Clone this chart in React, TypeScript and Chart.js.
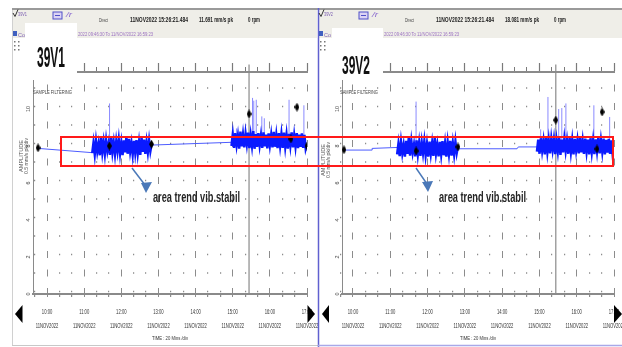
import React, { useEffect, useRef } from "react";
import { Chart, registerables } from "chart.js";
Chart.register(...registerables);

// ---------- data (time = minutes after midnight, 11 NOV 2022; amplitude mm/s pk) ----------
const X_MAX = 1020;
const HOUR_TICKS = [600, 660, 720, 780, 840, 900, 960, 1020];
const HOUR_LABELS = ["10:00", "11:00", "12:00", "13:00", "14:00", "15:00", "16:00", "17:00"];
const DATE_LABEL = "11NOV2022";
const MINOR_TICKS = [580, 620, 640, 680, 700, 740, 760, 800, 820, 860, 880, 920, 940, 980, 1000];
const TOP_TICKS = [580, 600, 620, 640, 660, 680, 700, 720, 740, 760, 780, 800, 820, 840, 860, 880, 900, 920, 940, 960, 980, 1000, 1020];
const Y_TICKS = [0, 2, 4, 6, 8, 10];
const CURSOR_TIME = 926.35;

// 39V1
const V1_XMIN = 577.3;
const V1_B1_START = 673;
const V1_B1_END = 769;
const V1_B1 = [7.62, 8.18, 7.55, 8.28, 7.7, 8.12, 7.5, 8.45, 7.66, 8.22, 7.58, 8.3, 7.74, 8.15, 7.52, 8.5, 7.68, 8.2, 7.56, 8.26, 7.72, 8.34, 7.6, 8.18, 7.5, 8.3, 7.66, 8.48, 7.58, 8.38, 7.7, 8.16, 7.54, 8.28, 7.64, 8.32, 7.6, 8.2, 7.52, 8.46, 7.68, 8.34, 7.58, 8.22, 7.66, 8.3, 7.72, 8.1];
const V1_B2_START = 898;
const V1_B2_END = 1020;
const V1_B2 = [8.0, 8.62, 7.9, 8.7, 8.05, 8.55, 7.86, 8.78, 7.98, 8.6, 7.92, 8.66, 8.1, 8.72, 7.88, 8.58, 8.02, 8.8, 7.85, 8.64, 7.95, 8.7, 8.04, 8.56, 7.9, 8.74, 7.98, 8.62, 7.87, 8.68, 8.06, 8.6, 7.92, 8.76, 7.96, 8.58, 7.88, 8.7, 8.02, 8.64, 7.9, 8.72, 7.97, 8.6, 7.86, 8.66, 8.04, 8.74, 7.92, 8.58, 7.99, 8.7, 7.88, 8.62, 7.95, 8.68, 7.9, 8.6, 7.85, 8.1];
const V1_LINK_T = [585.4, 673, 720, 769, 898];
const V1_LINK_V = [7.87, 7.64, null, 8.05, 8.2];
const V1_SPIKE_T = [701, 906, 932, 934, 938, 947, 951, 991, 1015];
const V1_SPIKE_V = [10.3, 8.95, 10.6, 10.45, 10.5, 9.6, 9.5, 10.5, 10.2];
const V1_SPIKE_BASE = 8.2;
const V1_MARK_T = [585.4, 700.6, 768.7, 926.35, 1003.8, 994, 1020];
const V1_MARK_V = [7.9, 8.0, 8.1, 9.73, 10.1, 8.38, 8.0];

// 39V2
const V2_XMIN = 582.3;
const V2_B1_START = 671;
const V2_B1_END = 769;
const V2_B1 = [7.55, 8.12, 7.45, 8.22, 7.6, 8.05, 7.42, 8.28, 7.58, 8.45, 7.48, 8.25, 7.65, 8.08, 7.44, 8.3, 7.56, 8.18, 7.46, 8.2, 7.62, 8.26, 7.5, 8.1, 7.42, 8.24, 7.58, 8.16, 7.47, 8.44, 7.6, 8.08, 7.44, 8.22, 7.55, 8.27, 7.5, 8.14, 7.43, 8.2, 7.57, 8.28, 7.48, 8.16, 7.55, 8.24, 7.62, 8.0];
const V2_B2_START = 896;
const V2_B2_END = 1020;
const V2_B2 = [7.7, 8.35, 7.58, 8.42, 7.75, 8.28, 7.55, 8.45, 7.68, 8.32, 7.6, 8.4, 7.8, 8.36, 7.56, 8.3, 7.72, 8.46, 7.52, 8.34, 7.66, 8.4, 7.74, 8.28, 7.58, 8.44, 7.68, 8.32, 7.55, 8.38, 7.76, 8.3, 7.6, 8.45, 7.65, 8.28, 7.57, 8.4, 7.7, 8.34, 7.54, 8.42, 7.67, 8.3, 7.56, 8.36, 7.73, 8.44, 7.6, 8.3, 7.69, 8.4, 7.55, 8.33, 7.64, 8.38, 7.58, 8.3, 7.52, 7.8];
const V2_LINK_T = [585.5, 630.7, 630.8, 671, 720, 769, 864, 866, 896];
const V2_LINK_V = [7.78, 7.78, 7.87, 7.92, null, 7.85, 7.85, 7.95, 7.95];
const V2_SPIKE_T = [701.5, 902, 913.7, 931, 936, 942.6, 987.6, 1013];
const V2_SPIKE_V = [10.4, 8.9, 10.65, 10.0, 10.05, 10.3, 10.2, 9.57];
const V2_SPIKE_BASE = 8.0;
const V2_MARK_T = [585.5, 701.5, 768.9, 926.35, 1000.8, 992.6, 1020];
const V2_MARK_V = [7.8, 7.73, 7.95, 9.4, 9.84, 7.84, 7.62];

// ---------- styling ----------
const FONT = "'Liberation Sans','DejaVu Sans',Arial,sans-serif";
const BAND_COLOR = "#0a1aff";
const LINK_COLOR = "#4d5cff";
const SPIKE_COLOR = "#8a8aff";
const GRID_COLOR = "#8c8c8c";

type Spec = {
  xMin: number;
  b1Start: number; b1End: number; b1: number[];
  b2Start: number; b2End: number; b2: number[];
  linkT: number[]; linkV: (number | null)[];
  spikeT: number[]; spikeV: number[]; spikeBase: number;
  markT: number[]; markV: number[];
  yWidth: number; padRight: number;
};

function makeDiamond() {
  const c = document.createElement("canvas");
  c.width = 5; c.height = 9;
  const g = c.getContext("2d")!;
  g.fillStyle = "#000";
  g.beginPath();
  g.moveTo(2.5, 0); g.lineTo(5, 4.5); g.lineTo(2.5, 9); g.lineTo(0, 4.5);
  g.closePath(); g.fill();
  return c;
}

// draws the two-line, condensed time labels at the x scale's own tick positions
const hourLabelPlugin = {
  id: "hourLabels",
  afterDraw(chart: any) {
    const sc = chart.scales.x;
    const ctx = chart.ctx as CanvasRenderingContext2D;
    ctx.save();
    ctx.fillStyle = "#333";
    ctx.font = `6.5px ${FONT}`;
    ctx.textAlign = "center";
    ctx.textBaseline = "middle";
    sc.ticks.forEach((t: any) => {
      const i = HOUR_TICKS.indexOf(t.value);
      if (i < 0) return;
      const px = sc.getPixelForValue(t.value);
      ctx.save();
      ctx.translate(px, sc.top + 18);
      ctx.scale(0.64, 1);
      ctx.fillText(HOUR_LABELS[i], 0, 0);
      ctx.fillText(DATE_LABEL, 0, 14);
      ctx.restore();
    });
    ctx.restore();
  },
};

function buildChart(canvas: HTMLCanvasElement, s: Spec) {
  const pts = (ts: number[], vs: (number | null)[]) => ts.map((t, i) => ({ x: t, y: vs[i] }));
  const band = (a: number, b: number, vs: number[]) =>
    vs.map((v, i) => ({ x: a + (i * (b - a)) / (vs.length - 1), y: v }));
  const spikes: { x: number; y: number | null }[] = [];
  s.spikeT.forEach((t, i) => {
    spikes.push({ x: t, y: s.spikeBase }, { x: t, y: s.spikeV[i] }, { x: t, y: null });
  });
  const fixTicks = (vals: number[]) => (scale: any) => {
    scale.ticks = vals.map((v) => ({ value: v }));
  };
  const zeroH = (scale: any) => {
    scale.height = 0; scale.paddingLeft = 0; scale.paddingRight = 0;
  };
  const diamond = makeDiamond();

  return new Chart(canvas, {
    type: "line",
    plugins: [hourLabelPlugin as any],
    data: {
      datasets: [
        { label: "markers", data: pts(s.markT, s.markV), showLine: false, pointStyle: diamond as any, pointRadius: 4, order: 0 },
        { label: "band1", data: band(s.b1Start, s.b1End, s.b1), borderColor: BAND_COLOR, borderWidth: 2.5, pointRadius: 0, order: 1 },
        { label: "band2", data: band(s.b2Start, s.b2End, s.b2), borderColor: BAND_COLOR, borderWidth: 2.5, pointRadius: 0, order: 1 },
        { label: "spikes", data: spikes as any, borderColor: SPIKE_COLOR, borderWidth: 1, pointRadius: 0, spanGaps: false, order: 2 },
        { label: "links", data: pts(s.linkT, s.linkV) as any, borderColor: LINK_COLOR, borderWidth: 1, pointRadius: 0, spanGaps: false, order: 3 },
        { label: "cursor", data: [{ x: CURSOR_TIME, y: 0 }, { x: CURSOR_TIME, y: 12.4 }], borderColor: "#8a8a8a", borderWidth: 1.2, pointRadius: 0, clip: false as any, order: 4 },
      ],
    },
    options: {
      responsive: false,
      maintainAspectRatio: false,
      animation: false,
      events: [],
      layout: { padding: { left: 0, right: s.padRight, top: 16, bottom: 0 } },
      plugins: { legend: { display: false }, tooltip: { enabled: false } },
      scales: {
        x: {
          type: "linear", axis: "x", position: "bottom", min: s.xMin, max: X_MAX, weight: 1,
          afterBuildTicks: fixTicks(HOUR_TICKS),
          afterFit: (sc: any) => { sc.height = 52; sc.paddingLeft = 0; sc.paddingRight = 0; },
          grid: { display: true, drawOnChartArea: true, drawTicks: true, tickLength: 3, color: GRID_COLOR, lineWidth: 1, tickColor: GRID_COLOR, tickWidth: 1 },
          border: { display: true, color: "#8a8a8a", width: 2, dash: [7, 11.5], dashOffset: 6 },
          ticks: { display: false },
        } as any,
        xMinor: {
          type: "linear", axis: "x", position: "bottom", min: s.xMin, max: X_MAX, weight: 0,
          afterBuildTicks: fixTicks(MINOR_TICKS), afterFit: zeroH,
          grid: { display: true, drawOnChartArea: true, drawTicks: true, tickLength: 3, color: GRID_COLOR, lineWidth: 1.2, tickColor: GRID_COLOR },
          border: { display: false, dash: [1.5, 17], dashOffset: 3.25 },
          ticks: { display: false },
        } as any,
        xTop: {
          type: "linear", axis: "x", position: "top", min: s.xMin, max: X_MAX, weight: 0,
          afterBuildTicks: fixTicks(HOUR_TICKS), afterFit: zeroH,
          grid: { display: true, drawOnChartArea: false, drawTicks: true, tickLength: 9, tickColor: "#7a7a7a", tickWidth: 1.2 },
          border: { display: true, color: "#8a8a8a", width: 2 },
          ticks: { display: false },
        } as any,
        xTopMinor: {
          type: "linear", axis: "x", position: "top", min: s.xMin, max: X_MAX, weight: 1,
          afterBuildTicks: fixTicks(TOP_TICKS), afterFit: zeroH,
          grid: { display: true, drawOnChartArea: false, drawTicks: true, tickLength: 5, tickColor: "#7a7a7a", tickWidth: 1 },
          border: { display: false },
          ticks: { display: false },
        } as any,
        y: {
          type: "linear", axis: "y", position: "left", min: 0, max: 12,
          afterBuildTicks: fixTicks(Y_TICKS),
          afterFit: (sc: any) => { sc.width = s.yWidth; sc.paddingTop = 0; sc.paddingBottom = 0; },
          grid: { display: true, drawOnChartArea: false, drawTicks: false },
          border: { display: true, color: "#8a8a8a", width: 1 },
          ticks: { minRotation: 90, maxRotation: 90, crossAlign: "center", padding: 1.5, color: "#444", font: { family: FONT, size: 5.5 } },
        } as any,
      },
    },
  });
}

const V1_SPEC: Spec = {
  xMin: V1_XMIN, b1Start: V1_B1_START, b1End: V1_B1_END, b1: V1_B1,
  b2Start: V1_B2_START, b2End: V1_B2_END, b2: V1_B2,
  linkT: V1_LINK_T, linkV: V1_LINK_V, spikeT: V1_SPIKE_T, spikeV: V1_SPIKE_V, spikeBase: V1_SPIKE_BASE,
  markT: V1_MARK_T, markV: V1_MARK_V, yWidth: 21, padRight: 11,
};
const V2_SPEC: Spec = {
  xMin: V2_XMIN, b1Start: V2_B1_START, b1End: V2_B1_END, b1: V2_B1,
  b2Start: V2_B2_START, b2End: V2_B2_END, b2: V2_B2,
  linkT: V2_LINK_T, linkV: V2_LINK_V, spikeT: V2_SPIKE_T, spikeV: V2_SPIKE_V, spikeBase: V2_SPIKE_BASE,
  markT: V2_MARK_T, markV: V2_MARK_V, yWidth: 22, padRight: 8,
};

function T(props: any) {
  const { x, y, size, len, fill = "#333", weight = "normal", children, anchor, italic, transform } = props;
  return (
    <text x={x} y={y} fontSize={size} fontFamily={FONT} fontWeight={weight} fill={fill}
      textLength={len} lengthAdjust="spacingAndGlyphs" textAnchor={anchor}
      fontStyle={italic ? "italic" : "normal"} transform={transform}>
      {children}
    </text>
  );
}

function Header({ ox, name, value }: { ox: number; name: string; value: string }) {
  return (
    <g>
      <polyline points={`${13 + ox},13 ${15 + ox},16.5 ${18 + ox},9.5`} fill="none" stroke="#333" strokeWidth={1} />
      <T x={18 + ox} y={16} size={6} len={9} fill="#7a5cb0">{name}</T>
      <rect x={53 + ox} y={12} width={9} height={7} fill="#dcd4f4" stroke="#5050c8" strokeWidth={1} />
      <line x1={55 + ox} x2={60 + ox} y1={15.5} y2={15.5} stroke="#5050c8" strokeWidth={1} />
      <T x={66 + ox} y={17} size={7} len={6} fill="#8a6ad0" italic>/r</T>
      <T x={99 + ox} y={22} size={6} len={9} fill="#444">Direct</T>
      <T x={130 + ox} y={22} size={6.5} len={58} fill="#222" weight="bold">11NOV2022 15:26:21.484</T>
      <T x={199 + ox} y={22} size={6.5} len={34} fill="#222" weight="bold">{value}</T>
      <T x={248 + ox} y={22} size={6.5} len={12} fill="#222" weight="bold">0 rpm</T>
      <rect x={13 + ox} y={31} width={4} height={5} fill="#4060c0" />
      <T x={18 + ox} y={37} size={6} len={7} fill="#7a5cb0">Co</T>
      <T x={78 + ox} y={36} size={5.5} len={75} fill="#9a70c0">2022 09:46:30 To 11/NOV/2022 16:59:23</T>
      {[41, 45, 49].map((yy) => (
        <g key={yy}>
          <rect x={14 + ox} y={yy} width={1.5} height={1.5} fill="#777" />
          <rect x={18 + ox} y={yy} width={1.5} height={1.5} fill="#777" />
        </g>
      ))}
    </g>
  );
}

export default function App() {
  const leftRef = useRef<HTMLCanvasElement>(null);
  const rightRef = useRef<HTMLCanvasElement>(null);

  useEffect(() => {
    document.body.style.margin = "0";
    const c1 = buildChart(leftRef.current!, V1_SPEC);
    const c2 = buildChart(rightRef.current!, V2_SPEC);
    return () => { c1.destroy(); c2.destroy(); };
  }, []);

  return (
    <div style={{ position: "absolute", left: 0, top: 0, width: 622, height: 347, background: "#fff", overflow: "hidden" }}>
      <canvas ref={leftRef} width={306} height={290} style={{ position: "absolute", left: 12, top: 56, width: 306, height: 290 }} />
      <canvas ref={rightRef} width={302} height={290} style={{ position: "absolute", left: 320, top: 56, width: 302, height: 290 }} />
      <svg width={622} height={347} style={{ position: "absolute", left: 0, top: 0, pointerEvents: "none" }}>
        {/* frames & header bands */}
        <rect x={12} y={10} width={305} height={28} fill="#efeee8" />
        <rect x={319} y={10} width={303} height={28} fill="#efeee8" />
        <rect x={12} y={8} width={610} height={2} fill="#9a9a9a" />
        <line x1={12.5} x2={12.5} y1={10} y2={346} stroke="#d0d0d0" strokeWidth={1} />
        <line x1={12} x2={318} y1={345.5} y2={345.5} stroke="#c8c8c8" strokeWidth={1} />
        <line x1={318.5} x2={318.5} y1={8} y2={347} stroke="#6060d0" strokeWidth={1.5} />
        <line x1={318} x2={622} y1={345.5} y2={345.5} stroke="#a8a8e8" strokeWidth={1.5} />

        <Header ox={0} name="39V1" value="11.691 mm/s pk" />
        <Header ox={306} name="39V2" value="18.081 mm/s pk" />

        {/* white label boxes */}
        <rect x={25} y={23} width={52} height={57} fill="#fff" />
        <rect x={332} y={28} width={51} height={52} fill="#fff" />
        <T x={37} y={67} size={30} len={28} fill="#111" weight="bold">39V1</T>
        <T x={342} y={74} size={26} len={28} fill="#111" weight="bold">39V2</T>

        <T x={33} y={94} size={5.5} len={39} fill="#444">SAMPLE FILTERING</T>
        <T x={340} y={94} size={5.5} len={38} fill="#444">SAMPLE FILTERING</T>

        {/* y-axis titles */}
        <T x={0} y={0} size={5} len={32} fill="#555" anchor="middle" transform="translate(23,156) rotate(-90)">AMPLITUDE</T>
        <T x={0} y={0} size={5} len={36} fill="#555" anchor="middle" transform="translate(28,156) rotate(-90)">0.5 mm/s pk/div</T>
        <T x={0} y={0} size={5} len={32} fill="#555" anchor="middle" transform="translate(325,160) rotate(-90)">AMPLITUDE</T>
        <T x={0} y={0} size={5} len={36} fill="#555" anchor="middle" transform="translate(330,160) rotate(-90)">0.5 mm/s pk/div</T>

        {/* x-axis titles */}
        <T x={170} y={340} size={5.5} len={36} fill="#333" anchor="middle">TIME : 20 Mins /div</T>
        <T x={478} y={340} size={5.5} len={36} fill="#333" anchor="middle">TIME : 20 Mins /div</T>

        {/* scroll triangles */}
        <polygon points="15,314 22.5,305 22.5,323" fill="#000" />
        <polygon points="315,314 307.5,305 307.5,323" fill="#000" />
        <polygon points="322,314 329,305 329,323" fill="#000" />
        <polygon points="622,314 614,305 614,323" fill="#000" />

        {/* red highlight */}
        <rect x={61} y={137} width={552} height={29} fill="none" stroke="#ff1a1a" strokeWidth={2} />

        {/* arrows */}
        <line x1={132} y1={168} x2={145} y2={185} stroke="#4a78b8" strokeWidth={1.5} />
        <polygon points="141,183 152,182 146,193" fill="#4a78b8" />
        <line x1={416} y1={168} x2={427} y2={184} stroke="#4a78b8" strokeWidth={1.5} />
        <polygon points="422,182 433,181 428,192" fill="#4a78b8" />

        <T x={153} y={202} size={15} len={87} fill="#262626" weight="bold">area trend vib.stabil</T>
        <T x={439} y={202} size={15} len={87} fill="#262626" weight="bold">area trend vib.stabil</T>
      </svg>
    </div>
  );
}
